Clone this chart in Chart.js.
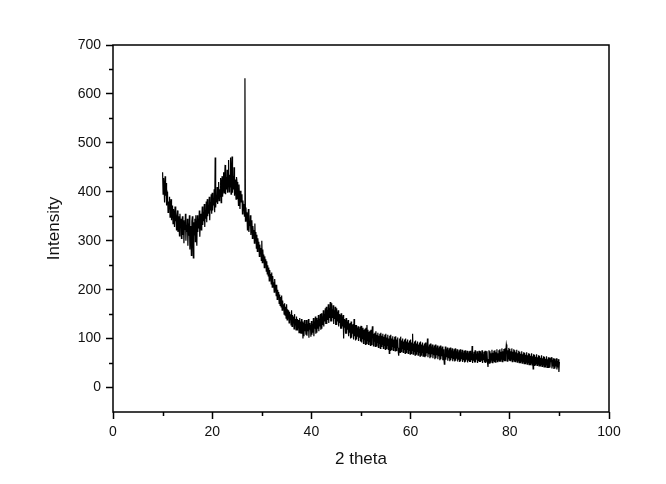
<!DOCTYPE html>
<html>
<head>
<meta charset="utf-8">
<script src="https://cdn.jsdelivr.net/npm/chart.js@4/dist/chart.umd.min.js"></script>
<style>
  html, body { margin: 0; padding: 0; background: #fff; }
  #xrdChart { display: block; }
</style>
</head>
<body>
<canvas id="xrdChart" width="666" height="484"></canvas>
<script>
// scan settings (2 theta, degrees)
const thetaStart = 10;
const thetaStep = 0.1;

// intensity, one row per degree (10 ... 89, then 90)
const intensity = [
  440, 395, 428, 410, 378, 432, 392, 418, 372, 400,
  395, 358, 380, 365, 390, 348, 372, 385, 342, 368,
  372, 335, 365, 352, 328, 370, 340, 358, 322, 348,
  362, 318, 350, 335, 310, 355, 328, 345, 305, 340,
  350, 312, 342, 295, 338, 322, 355, 300, 332, 318,
  345, 290, 335, 310, 352, 282, 330, 315, 270, 340,
  350, 305, 265, 338, 312, 345, 298, 352, 320, 290,
  352, 318, 345, 325, 362, 308, 340, 355, 322, 348,
  370, 332, 358, 340, 375, 328, 362, 345, 380, 338,
  385, 350, 372, 355, 390, 342, 378, 362, 395, 355,
  398, 362, 385, 372, 405, 358, 470, 368, 392, 378,
  410, 375, 400, 420, 382, 405, 390, 428, 378, 412,
  432, 390, 415, 440, 398, 425, 455, 395, 430, 405,
  445, 398, 428, 465, 400, 435, 410, 470, 395, 440,
  472, 398, 432, 405, 450, 392, 425, 410, 385, 430,
  420, 385, 408, 372, 415, 390, 365, 402, 378, 392,
  395, 355, 382, 362, 375, 350, 632, 340, 368, 345,
  358, 322, 345, 365, 318, 340, 330, 352, 312, 338,
  342, 305, 330, 315, 322, 295, 335, 300, 318, 285,
  312, 278, 305, 290, 298, 268, 292, 275, 285, 260,
  300, 255, 282, 260, 272, 245, 268, 252, 262, 238,
  258, 232, 250, 228, 245, 218, 240, 225, 232, 212,
  235, 205, 228, 210, 215, 195, 222, 198, 210, 188,
  210, 180, 200, 185, 195, 172, 190, 168, 185, 165,
  188, 158, 178, 162, 170, 150, 172, 148, 165, 142,
  170, 138, 160, 142, 158, 132, 155, 140, 150, 128,
  158, 125, 148, 132, 145, 120, 150, 128, 140, 118,
  145, 118, 140, 122, 138, 112, 142, 120, 135, 110,
  140, 110, 135, 100, 132, 105, 138, 115, 130, 108,
  138, 106, 130, 115, 140, 102, 132, 118, 128, 104,
  136, 108, 130, 112, 142, 105, 135, 120, 145, 110,
  142, 112, 138, 120, 148, 115, 140, 125, 150, 118,
  152, 120, 145, 128, 158, 125, 150, 135, 162, 130,
  165, 130, 158, 138, 170, 132, 162, 142, 175, 135,
  172, 135, 160, 142, 168, 130, 158, 140, 165, 128,
  162, 128, 155, 135, 158, 125, 150, 132, 148, 120,
  152, 120, 145, 125, 148, 100, 140, 122, 138, 110,
  142, 110, 135, 118, 138, 105, 130, 112, 132, 100,
  135, 102, 128, 110, 130, 98, 140, 105, 128, 96,
  128, 98, 122, 104, 125, 95, 120, 102, 124, 94,
  126, 92, 120, 100, 122, 90, 118, 98, 120, 88,
  122, 90, 128, 96, 118, 88, 114, 94, 116, 86,
  118, 88, 112, 125, 115, 85, 110, 95, 112, 84,
  115, 85, 108, 92, 112, 82, 106, 90, 110, 80,
  112, 84, 106, 88, 110, 80, 104, 86, 108, 78,
  110, 80, 102, 86, 108, 78, 100, 70, 106, 76,
  108, 78, 100, 84, 105, 76, 98, 82, 104, 75,
  105, 76, 98, 82, 102, 74, 65, 80, 100, 72,
  104, 74, 96, 80, 100, 72, 94, 78, 98, 70,
  100, 72, 94, 78, 98, 70, 92, 76, 96, 68,
  98, 70, 92, 76, 110, 68, 90, 74, 94, 66,
  96, 68, 90, 74, 94, 66, 88, 72, 92, 64,
  94, 66, 88, 72, 92, 64, 86, 70, 90, 62,
  92, 64, 86, 70, 100, 62, 84, 68, 88, 60,
  90, 62, 84, 68, 88, 60, 82, 66, 86, 58,
  88, 60, 82, 66, 86, 58, 80, 64, 84, 56,
  86, 58, 80, 64, 84, 56, 78, 62, 48, 55,
  84, 57, 78, 62, 82, 55, 76, 60, 80, 54,
  82, 56, 76, 60, 80, 54, 74, 58, 78, 53,
  80, 55, 74, 59, 78, 53, 72, 57, 76, 52,
  78, 54, 72, 58, 77, 52, 71, 56, 75, 51,
  76, 53, 71, 57, 75, 51, 70, 55, 74, 52,
  75, 52, 70, 56, 85, 50, 69, 55, 73, 51,
  76, 51, 69, 57, 74, 50, 70, 54, 75, 52,
  74, 52, 70, 55, 76, 50, 68, 56, 73, 51,
  75, 50, 71, 54, 74, 52, 42, 57, 76, 50,
  74, 52, 70, 56, 77, 51, 71, 55, 75, 53,
  76, 52, 72, 57, 78, 53, 70, 56, 76, 54,
  78, 54, 73, 58, 80, 53, 74, 57, 79, 55,
  80, 55, 74, 88, 82, 54, 76, 59, 81, 56,
  79, 55, 74, 58, 80, 53, 73, 57, 78, 54,
  76, 53, 72, 56, 77, 52, 70, 55, 75, 51,
  73, 51, 69, 54, 74, 50, 68, 53, 72, 49,
  71, 49, 67, 52, 72, 48, 66, 51, 70, 47,
  69, 47, 65, 50, 70, 46, 64, 38, 68, 45,
  67, 46, 63, 49, 68, 45, 62, 48, 66, 44,
  65, 44, 61, 47, 66, 43, 60, 46, 64, 42,
  63, 42, 59, 46, 64, 41, 58, 45, 62, 40,
  61, 41, 57, 55, 62, 39, 56, 43, 60, 38,
  59, 39, 55, 43, 60, 37, 54, 41, 58, 32,
  52
];

const xTicks = [0, 20, 40, 60, 80, 100];
const xMinorTicks = [10, 30, 50, 70, 90];
const yTicks = [0, 100, 200, 300, 400, 500, 600, 700];
const yMinorTicks = [50, 150, 250, 350, 450, 550, 650];

const points = intensity.map((y, i) => ({
  x: +(thetaStart + i * thetaStep).toFixed(1),
  y
}));

const FONT = "'Liberation Sans', Arial, sans-serif";

// frame + minor ticks (Chart.js has no minor ticks)
const framePlugin = {
  id: "frame",
  afterDraw(chart) {
    const { ctx, chartArea: a, scales } = chart;
    ctx.save();
    ctx.strokeStyle = "#000";
    ctx.lineWidth = 1.5;
    ctx.strokeRect(a.left, a.top, a.right - a.left, a.bottom - a.top);

    ctx.beginPath();
    xMinorTicks.forEach(v => {
      const px = Math.round(scales.x.getPixelForValue(v)) + 0.5;
      ctx.moveTo(px, a.bottom);
      ctx.lineTo(px, a.bottom + 4);
    });
    yMinorTicks.forEach(v => {
      const py = Math.round(scales.y.getPixelForValue(v)) + 0.5;
      ctx.moveTo(a.left, py);
      ctx.lineTo(a.left - 4, py);
    });
    ctx.stroke();
    ctx.restore();
  }
};

const ctx = document.getElementById("xrdChart").getContext("2d");

new Chart(ctx, {
  type: "line",
  data: {
    datasets: [{
      data: points,
      borderColor: "#000",
      borderWidth: 1.2,
      pointRadius: 0,
      tension: 0,
      fill: false
    }]
  },
  options: {
    responsive: false,
    animation: false,
    layout: { padding: { left: 0, top: 45, right: 57, bottom: 0 } },
    plugins: {
      legend: { display: false },
      tooltip: { enabled: false }
    },
    scales: {
      x: {
        type: "linear",
        min: 0,
        max: 100,
        afterBuildTicks: s => { s.ticks = xTicks.map(v => ({ value: v })); },
        afterFit: s => { s.height = 72; },
        border: { display: false },
        grid: {
          drawOnChartArea: false,
          drawTicks: true,
          tickLength: 7,
          tickWidth: 1.5,
          tickColor: "#000"
        },
        ticks: {
          padding: 5,
          color: "#111",
          font: { family: FONT, size: 14 },
          maxRotation: 0
        },
        title: {
          display: true,
          text: "2 theta",
          color: "#111",
          font: { family: FONT, size: 17 },
          padding: { top: 0, bottom: 14 }
        }
      },
      y: {
        type: "linear",
        min: -50,
        max: 700,
        afterBuildTicks: s => { s.ticks = yTicks.map(v => ({ value: v })); },
        afterFit: s => { s.width = 113; },
        border: { display: false },
        grid: {
          drawOnChartArea: false,
          drawTicks: true,
          tickLength: 7,
          tickWidth: 1.5,
          tickColor: "#000"
        },
        ticks: {
          padding: 5,
          color: "#111",
          font: { family: FONT, size: 14 }
        },
        title: {
          display: true,
          text: "Intensity",
          color: "#111",
          font: { family: FONT, size: 17 },
          padding: { top: 44, bottom: 0 }
        }
      }
    }
  },
  plugins: [framePlugin]
});
</script>
</body>
</html>
